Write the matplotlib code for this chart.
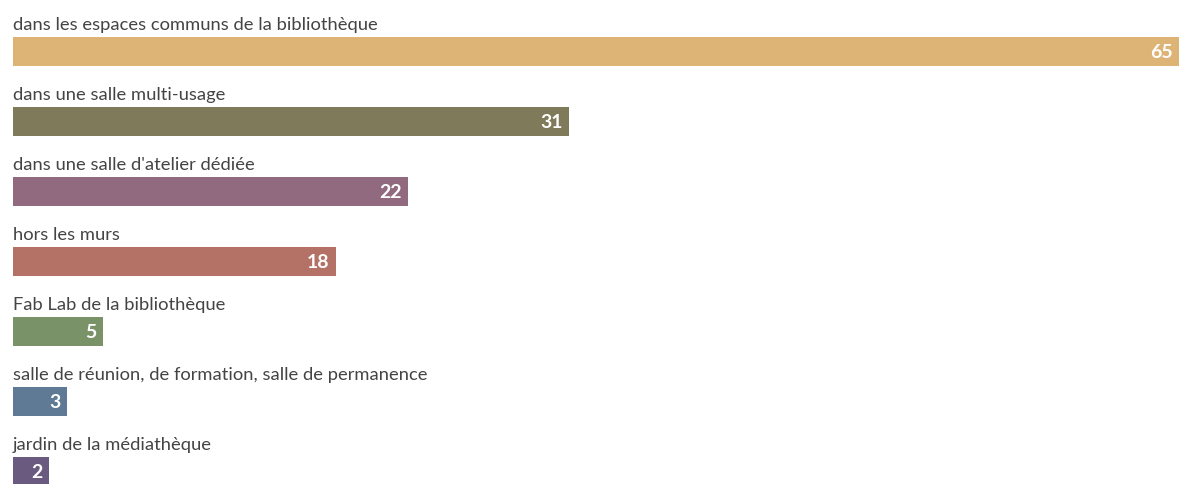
import matplotlib
matplotlib.use("Agg")
import matplotlib.pyplot as plt

categories = [
    "dans les espaces communs de la bibliothèque",
    "dans une salle multi-usage",
    "dans une salle d'atelier dédiée",
    "hors les murs",
    "Fab Lab de la bibliothèque",
    "salle de réunion, de formation, salle de permanence",
    "jardin de la médiathèque",
]
values = [65, 31, 22, 18, 5, 3, 2]
colors = ["#DDB476", "#7F7B5A", "#916A80", "#B47266", "#7A9268", "#5E7A95", "#6B5A80"]

W, H = 1179, 484
fig = plt.figure(figsize=(W / 100, H / 100), dpi=100)
ax = fig.add_axes([13 / W, 0, 1166 / W, 1])

row_px = 70.0
first_center = 51.5
ax.set_xlim(0, max(values))
ax.set_ylim((H - first_center) / row_px, -first_center / row_px)

ypos = list(range(len(categories)))
ax.barh(ypos, values, height=29 / row_px, color=colors, edgecolor="none")

for y, cat, v in zip(ypos, categories, values):
    ax.text(0, y - 0.27, cat, ha="left", va="bottom", fontsize=13.2,
            family=["Lato", "DejaVu Sans"], color="#444444")
    ax.annotate(str(v), xy=(v, y), xytext=(-4.5, -0.5), textcoords="offset points",
                ha="right", va="center", fontsize=14, fontweight="bold",
                family=["Lato", "DejaVu Sans"], color="white")

ax.axis("off")
fig.savefig("out.png", dpi=100)
